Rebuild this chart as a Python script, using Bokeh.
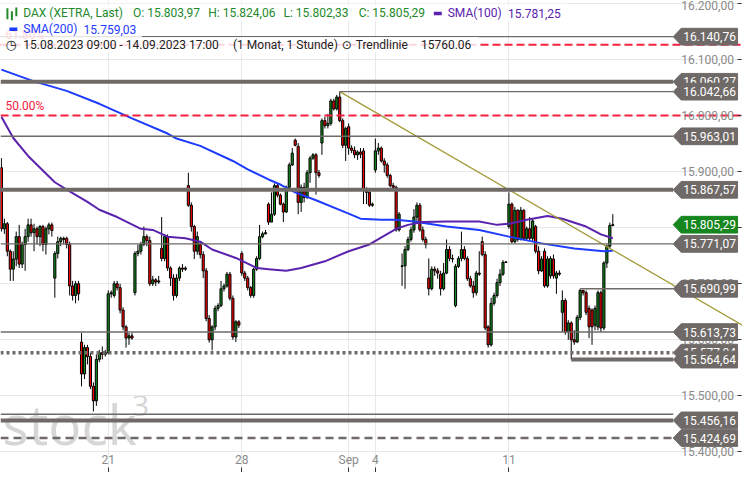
from bokeh.plotting import figure
from bokeh.models import Range1d, LinearAxis, FixedTicker, Grid, Label, BoxAnnotation
from bokeh.core.properties import value
from bokeh.embed import file_html
from bokeh.resources import INLINE

# ---------------- data (DAX Xetra, 1h candles, 15.08.2023 09:00 - 14.09.2023 17:00) -------------
opens = [
    15907, 15798, 15807, 15758, 15726, 15744, 15784, 15735, 15770,
    15784, 15805, 15791, 15798, 15784, 15802, 15770, 15798, 15805,
    15710, 15754, 15775, 15781, 15781, 15770, 15696, 15679, 15700,
    15596, 15539, 15586, 15570, 15517, 15491, 15565, 15577, 15574,
    15577, 15682, 15679, 15700, 15693, 15653, 15623, 15603, 15607,
    15684, 15754, 15758, 15770, 15784, 15777, 15700, 15707, 15703,
    15763, 15745, 15784, 15728, 15710, 15679, 15710, 15728, 15726,
    15875, 15840, 15802, 15758, 15770, 15752, 15723, 15638, 15600,
    15623, 15656, 15661, 15691, 15696, 15717, 15674, 15605, 15632,
    15754, 15719, 15710, 15693, 15679, 15726, 15745, 15784, 15789,
    15842, 15810, 15824, 15875, 15858, 15842, 15828, 15872, 15912,
    15956, 15945, 15845, 15872, 15854, 15898, 15924, 15930, 15898,
    15951, 15991, 15982, 15986, 16026, 16012, 16033, 15991, 15947,
    15980, 15942, 15938, 15930, 15935, 15937, 15866, 15863, 15840,
    15903, 15937, 15942, 15919, 15912, 15893, 15875, 15872, 15796,
    15731, 15732, 15761, 15779, 15796, 15819, 15840, 15796, 15779,
    15710, 15691, 15726, 15723, 15717, 15691, 15719, 15761, 15745,
    15661, 15731, 15745, 15761, 15745, 15709, 15696, 15684, 15719,
    15775, 15752, 15623, 15591, 15665, 15679, 15702, 15717, 15738,
    15802, 15842, 15775, 15831, 15779, 15831, 15781, 15798, 15781,
    15802, 15758, 15723, 15758, 15696, 15714, 15744, 15710, 15719,
    15649, 15670, 15614, 15630, 15600, 15596, 15640, 15688, 15684,
    15656, 15653, 15626, 15623, 15684, 15621, 15737, 15767, 15803.97,
]
highs = [
    15924, 15816, 15810, 15761, 15758, 15793, 15805, 15775, 15798,
    15816, 15816, 15807, 15802, 15805, 15805, 15802, 15809, 15809,
    15758, 15784, 15784, 15784, 15784, 15775, 15705, 15705, 15705,
    15612, 15591, 15591, 15577, 15524, 15574, 15582, 15588, 15582,
    15688, 15688, 15705, 15705, 15700, 15658, 15626, 15612, 15612,
    15758, 15770, 15775, 15802, 15788, 15784, 15714, 15710, 15714,
    15819, 15788, 15788, 15731, 15717, 15717, 15731, 15735, 15731,
    15898, 15845, 15805, 15793, 15775, 15758, 15728, 15644, 15626,
    15661, 15665, 15705, 15700, 15721, 15721, 15679, 15635, 15635,
    15758, 15723, 15714, 15696, 15728, 15749, 15805, 15793, 15796,
    15845, 15863, 15879, 15879, 15861, 15845, 15875, 15916, 15942,
    15959, 15951, 15877, 15880, 15903, 15928, 15933, 15933, 15903,
    15995, 15998, 16003, 16030, 16030, 16037, 16042.66, 15995, 15980,
    15986, 15947, 15945, 15938, 15942, 15942, 15872, 15866, 15845,
    15959, 15951, 15945, 15924, 15916, 15896, 15880, 15875, 15828,
    15754, 15767, 15784, 15802, 15833, 15845, 15844, 15802, 15784,
    15745, 15731, 15731, 15728, 15723, 15737, 15779, 15767, 15752,
    15735, 15749, 15793, 15767, 15749, 15714, 15705, 15723, 15758,
    15784, 15758, 15626, 15675, 15684, 15709, 15726, 15742, 15740,
    15863, 15845, 15837, 15833, 15837, 15833, 15802, 15819, 15816,
    15805, 15767, 15749, 15763, 15749, 15749, 15752, 15723, 15724,
    15688, 15674, 15635, 15633, 15617, 15644, 15690.99, 15689, 15688,
    15661, 15656, 15661, 15688, 15688, 15740, 15770, 15809, 15824.06,
]
lows = [
    15793, 15789, 15749, 15705, 15705, 15731, 15728, 15728, 15723,
    15775, 15784, 15758, 15770, 15767, 15758, 15752, 15788, 15784,
    15675, 15745, 15767, 15770, 15763, 15679, 15670, 15665, 15670,
    15517, 15530, 15556, 15512, 15472, 15482, 15560, 15565, 15570,
    15574, 15675, 15675, 15688, 15647, 15617, 15586, 15591, 15600,
    15679, 15749, 15752, 15767, 15767, 15696, 15696, 15696, 15700,
    15740, 15740, 15723, 15696, 15670, 15675, 15705, 15721, 15723,
    15837, 15793, 15744, 15752, 15745, 15710, 15633, 15595, 15581,
    15617, 15651, 15658, 15686, 15693, 15670, 15600, 15596, 15621,
    15714, 15705, 15688, 15675, 15675, 15723, 15742, 15781, 15788,
    15805, 15810, 15821, 15854, 15840, 15810, 15826, 15868, 15910,
    15945, 15824, 15828, 15845, 15851, 15880, 15921, 15859, 15889,
    15930, 15977, 15977, 15982, 16009, 16009, 15988, 15942, 15919,
    15930, 15933, 15924, 15921, 15924, 15842, 15842, 15837, 15837,
    15898, 15930, 15916, 15898, 15889, 15872, 15868, 15793, 15793,
    15696, 15691, 15758, 15775, 15791, 15807, 15793, 15775, 15763,
    15679, 15688, 15714, 15709, 15679, 15688, 15717, 15740, 15738,
    15658, 15728, 15740, 15742, 15705, 15693, 15675, 15679, 15714,
    15749, 15617, 15586, 15588, 15661, 15675, 15696, 15714, 15737,
    15798, 15772, 15772, 15775, 15777, 15777, 15777, 15777, 15775,
    15754, 15717, 15721, 15693, 15693, 15709, 15709, 15682, 15714,
    15614, 15609, 15600, 15564.64, 15591, 15595, 15635, 15679, 15644,
    15603, 15591, 15617, 15617, 15613.73, 15617, 15728, 15763, 15802.33,
]
closes = [
    15798, 15807, 15758, 15726, 15744, 15784, 15735, 15770, 15784,
    15805, 15791, 15798, 15784, 15802, 15770, 15798, 15805, 15795,
    15754, 15775, 15781, 15779, 15770, 15696, 15679, 15700, 15682,
    15539, 15586, 15570, 15517, 15491, 15565, 15577, 15574, 15577,
    15682, 15684, 15700, 15693, 15653, 15623, 15603, 15607, 15603,
    15754, 15758, 15770, 15784, 15777, 15700, 15707, 15703, 15705,
    15745, 15784, 15728, 15710, 15679, 15710, 15728, 15726, 15728,
    15840, 15802, 15758, 15784, 15752, 15723, 15638, 15600, 15623,
    15656, 15661, 15691, 15696, 15717, 15674, 15605, 15632, 15626,
    15719, 15710, 15693, 15679, 15726, 15745, 15784, 15789, 15791,
    15810, 15824, 15875, 15858, 15842, 15828, 15872, 15912, 15933,
    15947, 15845, 15872, 15854, 15898, 15924, 15930, 15898, 15893,
    15991, 15982, 15986, 16026, 16012, 16033, 15991, 15947, 15977,
    15942, 15938, 15930, 15935, 15931, 15866, 15863, 15840, 15842,
    15937, 15942, 15919, 15912, 15893, 15875, 15872, 15796, 15824,
    15732, 15761, 15779, 15796, 15819, 15840, 15796, 15779, 15770,
    15691, 15726, 15723, 15719, 15691, 15719, 15761, 15745, 15744,
    15731, 15745, 15761, 15745, 15709, 15696, 15684, 15719, 15717,
    15752, 15621, 15591, 15665, 15679, 15702, 15717, 15738, 15739,
    15842, 15775, 15831, 15779, 15831, 15781, 15798, 15781, 15812,
    15758, 15723, 15744, 15696, 15744, 15745, 15714, 15719, 15717,
    15670, 15614, 15630, 15600, 15596, 15640, 15688, 15684, 15649,
    15623, 15623, 15656, 15684, 15621, 15737, 15767, 15804, 15805.29,
]

sma200_idx = [0, 11, 22, 33, 44, 56, 59, 67, 78, 83, 90, 94, 99, 106, 117, 121, 128, 133, 139, 150, 161, 171, 182, 193, 203, 206]
sma200_val = [16082, 16061, 16044, 16021, 15995, 15968, 15959, 15946, 15919, 15904, 15886, 15877, 15863, 15849, 15825, 15816, 15814, 15814, 15811, 15802, 15796, 15784, 15772, 15763, 15758, 15759.03]

sma100_idx = [0, 4, 9, 18, 22, 29, 33, 39, 47, 51, 56, 62, 67, 71, 79, 86, 90, 96, 101, 109, 117, 124, 133, 137, 142, 150, 161, 167, 171, 177, 184, 189, 197, 202, 206]
sma100_val = [15998, 15960, 15928, 15881, 15868, 15846, 15832, 15819, 15798, 15796, 15784, 15781, 15775, 15761, 15746, 15728, 15726, 15723, 15728, 15740, 15758, 15770, 15798, 15805, 15810, 15811, 15811, 15805, 15807, 15814, 15821, 15816, 15802, 15788, 15781.25]

trend_idx = [114, 206]
trend_val = [16042.66, 15760.06]

level_vals = [16140.76, 16060.27, 16042.66, 15963.01, 15867.57, 15771.07, 15690.99,
              15613.73, 15577.04, 15564.64, 15456.16, 15424.69]
level_start = [None, None, 114, None, None, None, 195, None, None, 192, None, None]
level_kind = ["thin", "thick", "thin", "thin", "thick", "thin", "thin",
              "thin", "dotted", "thick", "thick", "dashed"]
extra_level = [15467.0]

fib_vals = [16126.3, 16000.0]
fib_names = ["61.80%", "50.00%"]

last_price = 15805.29
y_ticks = [15400, 15500, 15600, 15700, 15800, 15900, 16000, 16100, 16200]
x_tick_idx = [36, 81, 117, 126, 171]
x_tick_labels = ["21", "28", "Sep", "4", "11"]

# ---------------- helpers / style ----------------
def de(v):
    s = f"{v:,.2f}"
    return s.replace(",", "_").replace(".", ",").replace("_", ".")

W, H = 742, 472
X0, X1 = -0.3, 249.7
Y1 = 16205.3
Y0 = Y1 - 480 / 0.57


def dx(px):
    return X0 + px / 3.0


def dy(py):
    return Y1 - py / 0.57


FONT = "Roboto"
GRAY = "#6f6a67"
GREEN_C = "#138a1c"
RED_C = "#ff0000"
LEG_GREEN = "#22892a"
PURPLE = "#5a22ad"
BLUE = "#1d3cff"
FIB_RED = "#f4203e"

p = figure(width=W, height=H, x_range=Range1d(X0, X1), y_range=Range1d(Y0, Y1),
           x_axis_type=None, y_axis_type=None, toolbar_location=None,
           output_backend="svg", min_border=0)
p.outline_line_color = None
p.background_fill_color = "white"
p.border_fill_color = "white"

p.add_layout(Grid(dimension=0, ticker=FixedTicker(ticks=x_tick_idx),
                  grid_line_color="#e8e8e8", grid_line_width=1), "center")
p.add_layout(Grid(dimension=1, ticker=FixedTicker(ticks=y_ticks),
                  grid_line_color="#e8e8e8", grid_line_width=1), "center")

# watermark
p.text(x=[dx(2)], y=[dy(430)], text=["stock"], text_font=value("Open Sans"),
       text_font_size="55px", text_color="#d6d6d6", text_baseline="alphabetic",
       level="underlay")
p.text(x=[dx(133)], y=[dy(412)], text=["3"], text_font=value("Open Sans"),
       text_font_size="30px", text_color="#d6d6d6", text_baseline="alphabetic",
       level="underlay")

# candles
idx = list(range(len(closes)))
body_top = [max(o, c) for o, c in zip(opens, closes)]
body_bot = [min(o, c) for o, c in zip(opens, closes)]
cols = [GREEN_C if c >= o else RED_C for o, c in zip(opens, closes)]
p.segment(x0=idx, y0=lows, x1=idx, y1=highs, line_color="black", line_width=1)
p.vbar(x=idx, width=0.72, top=body_top, bottom=body_bot, fill_color=cols,
       line_color="black", line_width=1)

# moving averages
p.line(sma200_idx, sma200_val, line_color=BLUE, line_width=2)
p.line(sma100_idx, sma100_val, line_color=PURPLE, line_width=2)

# trend line (extended to the right edge)
slope = (trend_val[1] - trend_val[0]) / (trend_idx[1] - trend_idx[0])
p.line([trend_idx[0], X1], [trend_val[0], trend_val[0] + slope * (X1 - trend_idx[0])],
       line_color="#a39b3a", line_width=1.3)

# horizontal levels
END = dx(680)
for v, s, k in zip(level_vals, level_start, level_kind):
    x0 = X0 if s is None else s
    if k == "thin":
        p.segment([x0], [v], [END], [v], line_color=GRAY, line_width=1.4)
    elif k == "thick":
        p.segment([x0], [v], [END], [v], line_color=GRAY, line_width=4)
    elif k == "dotted":
        p.segment([x0], [v], [END], [v], line_color=GRAY, line_width=3.5, line_dash="3 3")
    else:
        p.segment([x0], [v], [END], [v], line_color=GRAY, line_width=2.5, line_dash="8 5")
for v in extra_level:
    p.segment([X0], [v], [END], [v], line_color=GRAY, line_width=1.4)

# fibonacci levels
for v, name in zip(fib_vals, fib_names):
    p.segment([X0], [v], [X1], [v], line_color=FIB_RED, line_width=2, line_dash="8 4")
    p.text(x=[dx(5)], y=[v + 10 / 0.57], text=[name], text_font=value(FONT),
           text_font_size="12px", text_color=FIB_RED, text_baseline="middle")

# axes (drawn inside the frame)
yax = LinearAxis(fixed_location=dx(686), ticker=FixedTicker(ticks=y_ticks),
                 major_label_overrides={t: de(t) for t in y_ticks},
                 axis_line_color=None, major_tick_out=0, major_tick_in=0,
                 minor_tick_line_color=None, major_label_standoff=2,
                 major_label_text_font=FONT, major_label_text_font_size="12px",
                 major_label_text_color="#8a8a8a")
p.add_layout(yax, "right")
ytk = LinearAxis(fixed_location=dx(745), ticker=FixedTicker(ticks=y_ticks),
                 major_label_overrides={t: "" for t in y_ticks},
                 axis_line_color=None, major_tick_out=4, major_tick_in=0,
                 major_tick_line_color="#333", minor_tick_line_color=None,
                 major_label_text_font_size="1px", major_label_text_color=None)
p.add_layout(ytk, "right")
xax = LinearAxis(fixed_location=Y0, ticker=FixedTicker(ticks=x_tick_idx),
                 major_label_overrides=dict(zip(x_tick_idx, x_tick_labels)),
                 axis_line_color=None, major_tick_out=5, major_tick_in=0,
                 major_tick_line_color="#333", minor_tick_line_color=None,
                 major_label_standoff=1, major_label_text_font=FONT,
                 major_label_text_font_size="12px", major_label_text_color="#8a8a8a")
p.add_layout(xax, "above")

# price tags
HH = 8.5 / 0.57
tags = sorted([(v, GRAY) for v in level_vals] + [(last_price, "#16861f")], key=lambda t: -t[0])
for v, c in tags:
    xs = [dx(680), dx(688), dx(745), dx(745), dx(688)]
    ys = [v, v + HH, v + HH, v - HH, v - HH]
    p.patch(xs, ys, fill_color=c, line_color=c, level="overlay")
    p.text(x=[dx(690)], y=[v], text=[de(v)], text_font=value(FONT), text_font_size="12px",
           text_color="white", text_baseline="middle", level="overlay")

# legend
for l, r, t, b in [(0, 573, 3, 21), (0, 143, 21, 37), (0, 483, 37, 53)]:
    p.add_layout(BoxAnnotation(left=dx(l), right=dx(r), top=dy(t), bottom=dy(b),
                               fill_color="white", fill_alpha=0.82, line_color=None))
for l, r, t, b in [(6, 8, 8, 19), (10.5, 12.5, 11, 20), (15, 17, 7, 16)]:
    p.add_layout(BoxAnnotation(left=dx(l), right=dx(r), top=dy(t), bottom=dy(b),
                               fill_color=LEG_GREEN, fill_alpha=1, line_color=None))
p.add_layout(BoxAnnotation(left=dx(438), right=dx(446), top=dy(11.5), bottom=dy(15),
                           fill_color=PURPLE, fill_alpha=1, line_color=None))
p.add_layout(BoxAnnotation(left=dx(9), right=dx(17), top=dy(27.5), bottom=dy(31),
                           fill_color=BLUE, fill_alpha=1, line_color=None))

legend_items = [
    (23, 13, "DAX (XETRA, Last)", LEG_GREEN),
    (134, 13, "O: " + de(opens[-1]), LEG_GREEN),
    (210, 13, "H: " + de(highs[-1]), LEG_GREEN),
    (286, 13, "L: " + de(lows[-1]), LEG_GREEN),
    (362, 13, "C: " + de(closes[-1]), LEG_GREEN),
    (452, 13, "SMA(100)", PURPLE),
    (513, 13, de(sma100_val[-1]), PURPLE),
    (23, 29, "SMA(200)", BLUE),
    (84, 29, de(sma200_val[-1]), BLUE),
    (23, 45, "15.08.2023 09:00 - 14.09.2023 17:00", "#222222"),
    (235, 45, "(1 Monat, 1 Stunde)", "#222222"),
    (359, 45, "Trendlinie", "#222222"),
    (425, 45, f"{trend_val[-1]:.2f}", "#222222"),
]
for x, y, t, c in legend_items:
    p.add_layout(Label(x=dx(x), y=dy(y), text=t, text_font=FONT, text_font_size="12px",
                       text_color=c, text_baseline="middle", text_align="left"))
p.add_layout(Label(x=dx(5), y=dy(45), text="\u25f7", text_font="DejaVu Sans",
                   text_font_size="13px", text_color="#222222", text_baseline="middle"))
p.add_layout(Label(x=dx(345), y=dy(45), text="\u2299", text_font="DejaVu Sans",
                   text_font_size="12px", text_color="#222222", text_baseline="middle"))

open("out.html", "w").write(file_html(p, INLINE))
